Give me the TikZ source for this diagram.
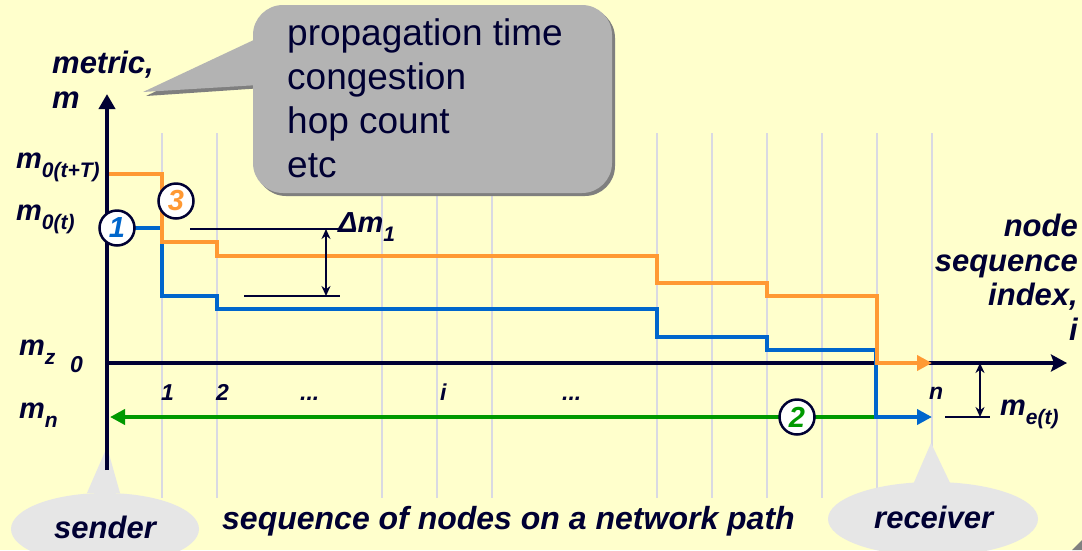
\documentclass[tikz,border=0pt]{standalone}
\usepackage{fontspec}
\setmainfont{Liberation Sans}
\usetikzlibrary{arrows.meta}

\definecolor{bg}{HTML}{FFFFCC}
\definecolor{ink}{HTML}{000033}
\definecolor{orng}{HTML}{FF9933}
\definecolor{blu}{HTML}{0066CC}
\definecolor{grn}{HTML}{009900}
\definecolor{gridc}{HTML}{D9D9E3}
\definecolor{bubble}{HTML}{B3B3B3}
\definecolor{bubbleshade}{HTML}{7F7F7F}
\definecolor{tagc}{HTML}{E6E6E6}

% lowered, smaller index text for the metric symbols
\newcommand\lowtxt[1]{\raisebox{-0.32em}{\fontsize{21}{21}\selectfont #1}}

\begin{document}
\begin{tikzpicture}[x=1pt,y=-1pt,
  lbl/.style={font=\fontsize{29}{34.5}\selectfont\bfseries\itshape, text=ink, inner sep=0pt},
  biglbl/.style={font=\fontsize{31}{34.5}\selectfont\bfseries\itshape, text=ink, inner sep=0pt},
  ticklbl/.style={font=\fontsize{23}{23}\selectfont\bfseries\itshape, text=ink, inner sep=0pt},
  gridline/.style={draw=gridc, line width=2pt},
  trace/.style={line width=4pt, line join=miter},
  axis/.style={draw=ink, line width=4pt},
  badge/.style={circle, draw=ink, line width=2.5pt, fill=white, minimum size=35pt, inner sep=0pt,
                font=\fontsize{29}{29}\selectfont\bfseries\itshape},
  dim/.style={draw=ink, line width=2pt},
  dimarrow/.style={draw=ink, line width=2pt, {Stealth[length=10pt,width=9pt]}-{Stealth[length=10pt,width=9pt]}},
  headtip/.style={-{Triangle[length=15pt,width=15pt]}},
]
\clip (0,0) rectangle (1082,550);
\fill[bg] (0,0) rectangle (1082,550);

% vertical guides at the node positions
\foreach \x in {162,217,382,437,492,657,712,767,822,877,932}
  \draw[gridline] (\x,133) -- (\x,498);

% sender and receiver tags
\fill[tagc] (87,493) -- (107,447) -- (120,493) -- cycle;
\fill[tagc] (105,529) ellipse [x radius=94, y radius=36];
\fill[tagc] (912,487) -- (931,443) -- (952,487) -- cycle;
\fill[tagc] (933,519) ellipse [x radius=105, y radius=37];
\node[biglbl, anchor=base west] (sender) at (54,538) {sender};
\node[biglbl, anchor=base west] (receiver) at (874,528) {receiver};

% speech bubble listing the metrics
\begin{scope}[shift={(3,3)}]
  \fill[bubbleshade, rounded corners=30pt] (253,5) rectangle (612,193);
  \fill[bubbleshade] (275,30) -- (143,93) -- (275,84) -- cycle;
\end{scope}
\fill[bubble, rounded corners=30pt] (253,5) rectangle (612,193);
\fill[bubble] (275,30) -- (143,92) -- (275,84) -- cycle;
\node[anchor=base west, inner sep=0pt, text=ink, font=\fontsize{37}{44}\selectfont, align=left]
  (metrics) at (287,177) {propagation time\\congestion\\hop count\\etc};

% axes
\coordinate (origin) at (107,363);
\coordinate (ytop) at (107,94);
\coordinate (ybot) at (107,470);
\coordinate (xend) at (1067,363);
\draw[axis, -{Triangle[length=15pt,width=16pt]}] (ybot) -- (ytop);
\draw[axis, -{Stealth[length=16pt,width=17pt,inset=3pt]}] (origin) -- (xend);

% end-to-end feedback back to the sender
\coordinate (fbstart) at (876,417);
\coordinate (fbend) at (110,417);
\draw[grn, trace, headtip] (fbstart) -- (fbend);

% metric profile at time t
\coordinate (bluestart) at (117,228);
\coordinate (blueend) at (932,417);
\draw[blu, trace, headtip] (bluestart) -| (162,296) -| (217,309) -| (657,337) -| (767,350) -| (876,417) -- (blueend);

% metric profile at time t+T
\coordinate (orgstart) at (109,174);
\coordinate (orgend) at (932,363);
\draw[orng, trace, headtip] (orgstart) -| (162,242) -| (217,256) -| (657,283) -| (767,296) -| (877,363) -- (orgend);

% numbered markers
\node[badge, text=blu] (b1) at (117,228) {1};
\node[badge, text=orng] (b3) at (176,201) {3};
\node[badge, text=grn] (b2) at (797,417) {2};

% first-hop difference
\coordinate (dmA) at (190,229);
\coordinate (dmB) at (340,229);
\coordinate (dmC) at (244,296);
\coordinate (dmD) at (340,296);
\draw[dim] (dmA) -- (dmB);
\draw[dim] (dmC) -- (dmD);
\draw[dimarrow] (326,229) -- (326,296);
\node[lbl, anchor=base west] (dm) at (338,232) {Δm\lowtxt{1}};

% end metric offset
\coordinate (meA) at (945,417);
\coordinate (meB) at (990,417);
\draw[dim] (meA) -- (meB);
\draw[dimarrow] (980,363) -- (980,417);
\node[lbl, anchor=base west] (me) at (1000,415) {m\lowtxt{e(t)}};

% axis labels
\node[biglbl, anchor=base west] (ylab1) at (52,73) {metric,};
\node[biglbl, anchor=base west] (ylab2) at (52,108) {m};
\node[biglbl, anchor=base east, align=right] (xlab) at (1078,340) {node\\sequence\\index,\\i};
\node[biglbl, font=\fontsize{32}{34.5}\selectfont\bfseries\itshape, anchor=base west]
  (caption) at (222,529) {sequence of nodes on a network path};

% metric levels
\node[lbl, anchor=base west] (m0tT) at (16,168) {m\lowtxt{0(t+T)}};
\node[lbl, anchor=base west] (m0t) at (16,220) {m\lowtxt{0(t)}};
\node[lbl, anchor=base west] (mz) at (19,355) {m\lowtxt{z}};
\node[ticklbl, anchor=base west] (zero) at (70,372) {0};
\node[lbl, anchor=base west] (mn) at (19,418) {m\lowtxt{n}};

% node index ticks
\node[ticklbl, anchor=base west] (t1) at (161,400) {1};
\node[ticklbl, anchor=base west] (t2) at (216,400) {2};
\node[ticklbl, anchor=base west] (tdots1) at (300,400) {...};
\node[ticklbl, anchor=base west] (ti) at (440,400) {i};
\node[ticklbl, anchor=base west] (tdots2) at (562,400) {...};
\node[ticklbl, anchor=base west] (tn) at (929,399) {n};

% page corner
\fill[gray] (1072,550) -- (1082,540) -- (1082,550) -- cycle;
\end{tikzpicture}
\end{document}
